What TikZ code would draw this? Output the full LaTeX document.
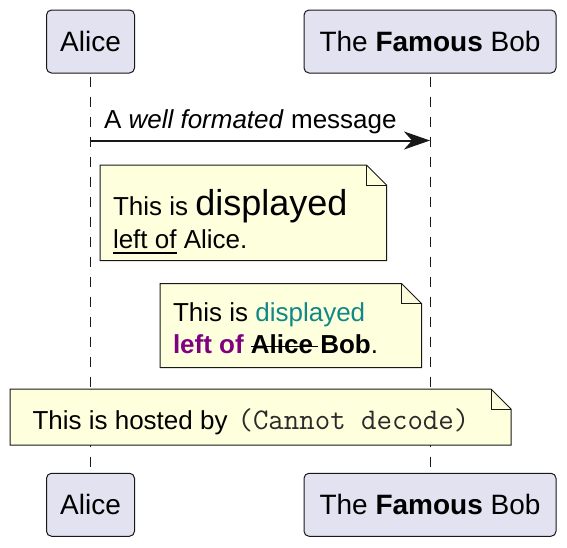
\documentclass[tikz,border=0pt]{standalone}
\usepackage{fontspec}
\setmainfont{Liberation Sans}
\usetikzlibrary{arrows.meta}
\definecolor{partfill}{HTML}{E2E2F0}
\definecolor{linecol}{HTML}{181818}
\definecolor{notefill}{HTML}{FEFFDD}
\definecolor{noteteal}{HTML}{118888}
\definecolor{notepurple}{HTML}{800080}
\definecolor{monocol}{HTML}{2A2A2A}
\newcommand\drawnote[4]{%
  \draw[notebox] (#1,#2) -- (#3-20,#2) -- (#3,#2+20) -- (#3,#4) -- (#1,#4) -- cycle;
  \draw[notebox, fill=none] (#3-20,#2) -- (#3-20,#2+20) -- (#3,#2+20);
}
\begin{document}
\begin{tikzpicture}[x=1pt,y=-1pt,
  part/.style={draw=linecol, fill=partfill, line width=1pt, rounded corners=5pt,
    inner sep=0pt, minimum height=63pt, font=\fontsize{28}{34}\selectfont},
  lifeline/.style={draw=linecol, line width=1pt, dash pattern=on 10pt off 10pt, dash phase=17pt},
  msg/.style={draw=linecol, line width=2pt, -{Stealth[length=26pt,width=18pt,inset=8pt]}},
  notebox/.style={draw=linecol, fill=notefill, line width=1pt, line join=miter},
  txt/.style={inner sep=0pt, outer sep=0pt, anchor=base west, font=\fontsize{26}{30}\selectfont},
  rulestroke/.style={draw=black, line width=1.5pt},
]
\useasboundingbox (0,0) rectangle (567,547);
% participants
\node[part, minimum width=88pt] (aT) at (90.5,41.5) {Alice};
\node[part, minimum width=252pt] (bT) at (430,41.5) {The \textbf{Famous} Bob};
\node[part, minimum width=88pt] (aB) at (90.5,504.75) {Alice};
\node[part, minimum width=252pt] (bB) at (430,504.75) {The \textbf{Famous} Bob};
% lifelines
\draw[lifeline] (aT.south) -- (aB.north);
\draw[lifeline] (bT.south) -- (bB.north);
% message
\coordinate (msgy) at (0,140.5);
\draw[msg] (aT.south |- msgy) -- (bT.south |- msgy);
\node[txt] (ml) at (104,128.5) {A \textit{well formated} message};
% note 1
\drawnote{100}{165}{386.5}{260.5}
\node[txt] (n1a) at (113,215.5) {This is \fontsize{36}{40}\selectfont displayed};
\node[txt] (n1b) at (113,248.5) {left of};
\node[txt] (n1c) at (n1b.base east) {\ Alice.};
\draw[rulestroke] ([yshift=-4.5pt]n1b.base west) -- ([yshift=-4.5pt]n1b.base east);
% note 2
\drawnote{160}{283.5}{421.5}{367.5}
\node[txt] (n2a) at (173,321.2) {This is \textcolor{noteteal}{displayed}};
\node[txt] (n2b) at (173,353) {\bfseries\color{notepurple}left of};
\node[txt] (n2d) at ([xshift=7.2pt]n2b.base east) {\bfseries Alice};
\node[txt] (n2e) at ([xshift=7.2pt]n2d.base east) {\bfseries Bob};
\node[txt] (n2f) at (n2e.base east) {.};
\draw[rulestroke] ([yshift=6.5pt]n2d.base west) -- ([xshift=5pt,yshift=6.5pt]n2d.base east);
% note 3
\drawnote{10}{389}{511}{445}
\node[txt] (n3a) at (32.5,429) {This is hosted by};
\node[txt, font=\fontsize{30}{34}\ttfamily, text=monocol] (n3b) at ([xshift=10pt]n3a.base east) {(Cannot decode)};
\end{tikzpicture}
\end{document}
